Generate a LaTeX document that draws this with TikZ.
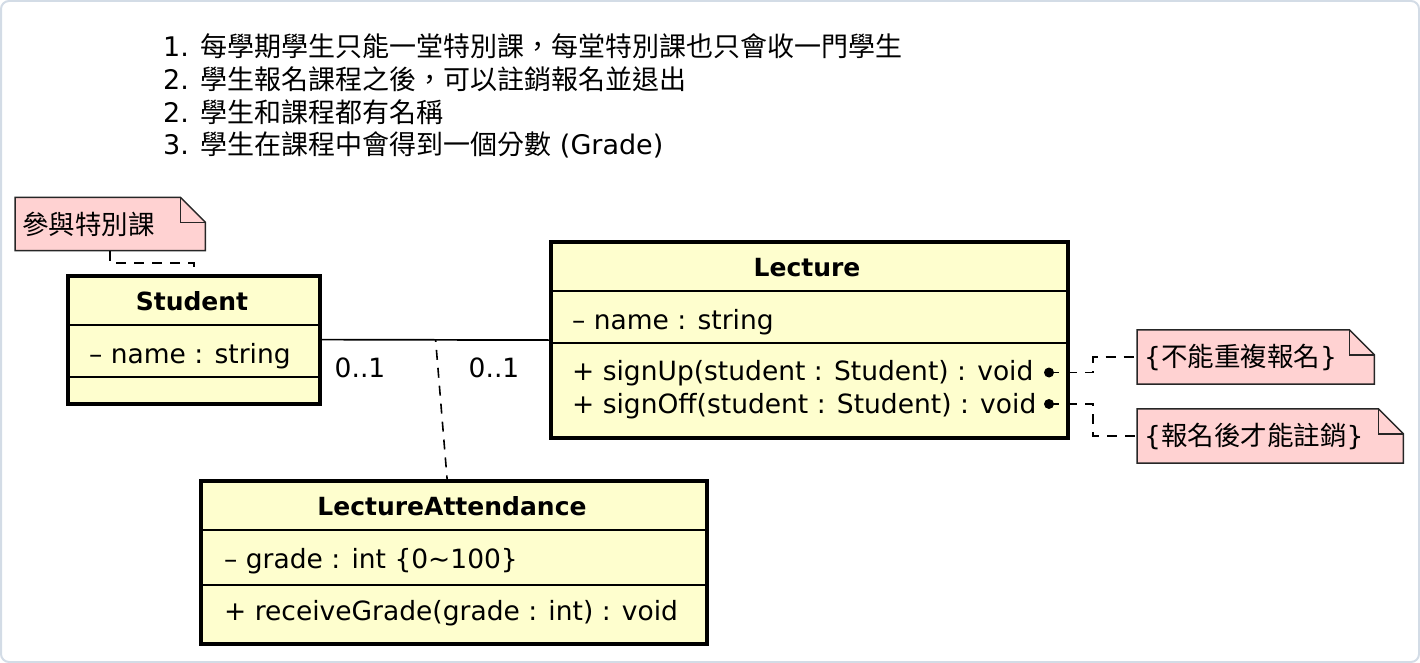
\documentclass[tikz,border=0pt]{standalone}
\usepackage{fontspec}
\setmainfont{DejaVu Sans}
\newfontfamily\cjk{Noto Sans CJK TC}
\usepackage{tikz}
\usetikzlibrary{calc,positioning,backgrounds}
\definecolor{classfill}{HTML}{FEFECE}
\definecolor{notefill}{HTML}{FFD2D2}
\definecolor{framegray}{HTML}{D3DCE6}

\tikzset{
  classbox/.style={draw=black, line width=4.2pt, fill=classfill, anchor=north west, inner sep=0pt},
  divider/.style={line width=1.5pt},
  member/.style={anchor=base west, inner sep=0pt},
  title/.style={anchor=base, inner sep=0pt, font=\fontsize{25}{30}\selectfont\bfseries},
  notebox/.style={anchor=west, inner sep=7pt, align=left},
  noteline/.style={draw=black!85, line width=1.5pt, fill=notefill},
  notelink/.style={line width=1.6pt, dash pattern=on 10pt off 8pt},
  assoc/.style={line width=1.7pt},
}

\begin{document}
\begin{tikzpicture}[x=1pt, y=-1pt, font=\fontsize{26.5}{32.5}\selectfont]
        \useasboundingbox (0,0) rectangle (1420,663);
        \draw[framegray, line width=2pt, rounded corners=8pt] (1,1) rectangle (1419,662);
        % Requirements
        \begin{scope}[every node/.append style={font=\fontsize{27}{33}\selectfont}]
        \node[member] (req1) at (163,57) {1. {\cjk 每學期學生只能一堂特別課，每堂特別課也只會收一門學生}};
        \node[member] (req2) at (163,90) {2. {\cjk 學生報名課程之後，可以註銷報名並退出}};
        \node[member] (req3) at (163,122.5) {2. {\cjk 學生和課程都有名稱}};
        \node[member] (req4) at (163,155) {3. {\cjk 學生在課程中會得到一個分數} (Grade)};
        \end{scope}
        % Student
        \node[classbox, minimum width=252, minimum height=128] (stu) at (66,273.5) {};
        \draw[divider] (66,325) -- (318,325);
        \draw[divider] (66,377) -- (318,377);
        \node[title] (stutitle) at (192,310) {Student};
        \node[member] (stuname) at (89,363) {– name : string};
        % Lecture
        \node[classbox, minimum width=517, minimum height=196] (lec) at (549,240) {};
        \draw[divider] (549,291) -- (1066,291);
        \draw[divider] (549,343) -- (1066,343);
        \node[title] (lectitle) at (807,276) {Lecture};
        \node[member] (lecname) at (572,329) {– name : string};
        \node[member] (lecup) at (572,380) {+ signUp(student : Student) : void};
        \node[member] (lecoff) at (572,413) {+ signOff(student : Student) : void};
        % LectureAttendance
        \node[classbox, minimum width=506, minimum height=163] (att) at (199,479) {};
        \draw[divider] (199,530) -- (705,530);
        \draw[divider] (199,585) -- (705,585);
        \node[title] (atttitle) at (452,515) {LectureAttendance};
        \node[member] (attgrade) at (224,568) {– grade : int \{0{\char`\~}100\}};
        \node[member] (attrecv) at (224,620) {+ receiveGrade(grade : int) : void};
        % Association and association class
        \draw[assoc] (stu.east) -- (lec.west);
        \node (mstu) at (360,368) {0..1};
        \node (mlec) at (494,368) {0..1};
        \coordinate (mid) at ($(stu.east)!0.5!(lec.west)$);
        \draw[notelink, dash phase=8pt] (mid) -- ($(att.north)+(-7,0)$);
        % Notes
        \node[notebox, text width=176, minimum height=53] (nstu) at (15,224) {{\cjk 參與特別課}};
        \node[notebox, text width=223, minimum height=54] (nup) at (1137,357) {\{{\cjk 不能重複報名}\}};
        \node[notebox, text width=252, minimum height=54] (noff) at (1137,436) {\{{\cjk 報名後才能註銷}\}};
        \begin{scope}[on background layer]
        \foreach \n in {nstu,nup,noff} {
            \draw[noteline] (\n.north west) -- ($(\n.north east)+(-25,0)$) -- ($(\n.north east)+(0,25)$)
              -- (\n.south east) -- (\n.south west) -- cycle;
            \draw[noteline, fill=none] ($(\n.north east)+(-25,0)$) |- ($(\n.north east)+(0,25)$);
          }
        \end{scope}
        % Note links
        \coordinate (up) at (1049,372.5);
        \coordinate (off) at (1049,404);
        \fill (up) circle[radius=5pt];
        \fill (off) circle[radius=5pt];
        \draw[notelink] (nstu.south) -- ++(0,12) -| (stu.north);
        \draw[notelink] (up) -- ++(44,0) |- (nup.west);
        \draw[notelink] (off) -- ++(44,0) |- (noff.west);
      \end{tikzpicture}
\end{document}
